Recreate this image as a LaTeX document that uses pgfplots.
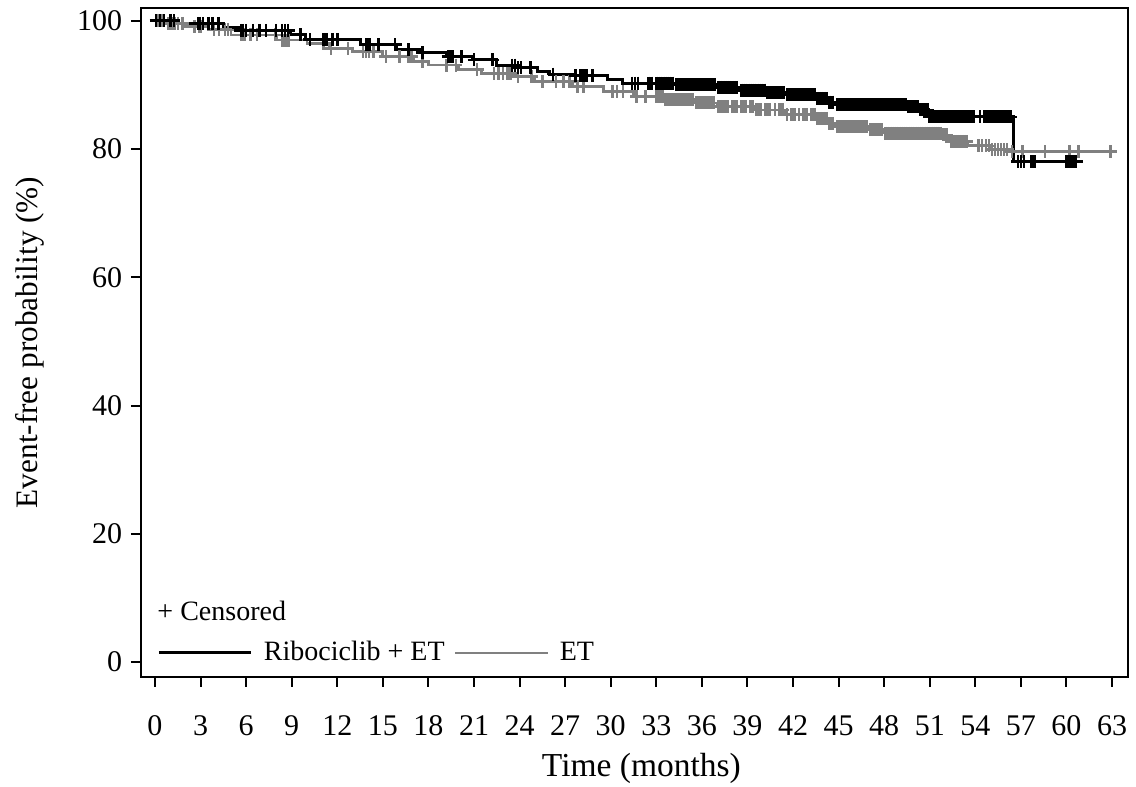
\documentclass[border=0pt]{standalone}
\usepackage{fontspec}
\setmainfont{Liberation Serif}
\usepackage{pgfplots}
\pgfplotsset{compat=1.18}
\definecolor{etgray}{RGB}{128,128,128}
\begin{document}
\begin{tikzpicture}
\path[use as bounding box] (-56.4pt,-44pt) rectangle (398pt,270.8pt);
\begin{axis}[
  scale only axis, width=394.8pt, height=267.6pt,
  xmin=-0.92, xmax=64.05, ymin=-2.34, ymax=102.0,
  xtick={0,3,...,63}, ytick={0,20,...,100},
  tick pos=left, tick align=outside, major tick length=4pt,
  axis line style={line width=0.8pt},
  every tick/.style={black, line width=0.8pt},
  font=\fontsize{12}{14}\selectfont,
  /pgf/number format/assume math mode=true,
  xticklabel style={yshift=-8pt},
  xlabel={Time (months)}, ylabel={Event-free probability (\%)},
  xlabel style={at={(axis description cs:0.507,-0.136)}, anchor=center, font=\fontsize{13.4}{15}\selectfont},
  ylabel style={at={(axis description cs:-0.1125,0.5)}, anchor=center, font=\fontsize{12.5}{15}\selectfont},
  legend columns=2,
  legend style={draw=none, fill=none, at={(axis description cs:0.0162,0.0105)}, anchor=south west, inner sep=0pt,
    font=\fontsize{11.2}{13}\selectfont,
    /tikz/every even column/.append style={column sep=1.6pt}},
  legend image code/.code={\draw[#1] (0pt,0pt) -- (37pt,0pt); \path (39.4pt,0pt);},
]
\addplot[const plot, black, line width=1.2pt] coordinates {
(0,100) (1.5,99.6) (4.5,98.9) (5.6,98.5) (8.9,97.8) (9.9,97.1) (13.5,96.3) (15.9,95.5) (17.5,95.0) (19.2,94.4) (20.9,93.9) (22.5,93.1) (23.8,92.7) (25.2,92.1) (26.0,91.7) (27.5,91.4) (29.8,90.8) (30.8,90.3) (34.2,90.0) (37.0,89.6) (38.5,89.2) (40.2,88.8) (41.5,88.5) (43.5,87.9) (44.3,87.3) (44.8,86.9) (49.5,86.6) (50.3,86.1) (50.9,85.0) (56.5,78.0) (61.1,78.0)
};
\addlegendentry{Ribociclib + ET}
\addplot[const plot, etgray, line width=1.1pt] coordinates {
(0,100) (0.8,99.6) (2.0,99.1) (3.5,98.6) (5.0,97.8) (8.0,97.0) (10,96.5) (11.5,95.7) (13,95.2) (15,94.4) (17,93.6) (18,93.1) (20,92.4) (21.5,91.8) (23.5,91.3) (25,90.5) (27.5,89.8) (29.5,89.0) (31.5,88.2) (33.5,87.7) (35.5,87.2) (37,86.6) (39.5,86.1) (41.5,85.4) (43.5,84.8) (44.3,84.0) (44.8,83.5) (47,83.0) (48,82.5) (51.8,82.2) (52.3,81.2) (53.5,80.5) (55,79.9) (56.3,79.6) (63,79.6)
};
\addlegendentry{ET}
% censored, ET
\addplot[only marks, mark=+, mark size=2.6pt, etgray, line width=1pt, forget plot] coordinates {
(0.2,100)(0.5,100)
(0.9,99.6)(1.1,99.6)(1.3,99.6)(1.5,99.6)(1.8,99.6)
(2.6,99.1)(2.9,99.1)(3.0,99.1)
(3.9,98.6)(4.2,98.6)(4.6,98.6)(4.8,98.6)
(5.7,97.8)(5.9,97.8)(6.3,97.8)(6.7,97.8)(7.9,97.8)
(8.4,97.0)(8.6,97.0)(8.8,97.0)
(11.1,96.5)
(11.6,95.7)(12.7,95.7)
(13.7,95.2)(13.9,95.2)(14.1,95.2)(14.4,95.2)
(15.2,94.4)(16.1,94.4)(16.7,94.4)(16.9,94.4)
(17.6,93.6)
(19.2,93.1)(19.8,93.1)
(21.2,92.4)
(22.3,91.8)(22.6,91.8)(22.9,91.8)(23.2,91.8)(23.4,91.8)
(23.9,91.3)(24.8,91.3)
(25.5,90.5)(26.4,90.5)(26.9,90.5)(27.3,90.5)
(27.8,89.8)(28.2,89.8)
(30.1,89.0)(30.4,89.0)(30.8,89.0)
(31.7,88.2)(32.3,88.2)(33.0,88.2)(33.2,88.2)(33.4,88.2)
(33.6,87.7)(33.75,87.7)(33.9,87.7)(34.05,87.7)(34.2,87.7)(34.35,87.7)(34.5,87.7)(34.65,87.7)(34.8,87.7)(34.95,87.7)(35.1,87.7)(35.25,87.7)(35.4,87.7)
(35.6,87.2)(35.75,87.2)(35.9,87.2)(36.05,87.2)(36.2,87.2)(36.35,87.2)(36.5,87.2)(36.65,87.2)(36.8,87.2)
(37.1,86.6)(37.25,86.6)(37.4,86.6)(37.55,86.6)(37.7,86.6)(38.0,86.6)(38.15,86.6)(38.3,86.6)(38.6,86.6)(38.75,86.6)(38.9,86.6)(39.2,86.6)(39.35,86.6)
(39.6,86.1)(39.75,86.1)(39.9,86.1)(40.2,86.1)(40.35,86.1)(40.5,86.1)(40.8,86.1)(41.1,86.1)(41.3,86.1)
(41.6,85.4)(41.9,85.4)(42.1,85.4)(42.4,85.4)(42.7,85.4)(42.9,85.4)(43.2,85.4)(43.4,85.4)
(43.6,84.8)(43.8,84.8)(44.0,84.8)(44.2,84.8)
(44.4,84.0)(44.6,84.0)
(44.9,83.5)(45.05,83.5)(45.2,83.5)(45.35,83.5)(45.5,83.5)(45.65,83.5)(45.8,83.5)(45.95,83.5)(46.1,83.5)(46.25,83.5)(46.4,83.5)(46.55,83.5)(46.7,83.5)(46.85,83.5)
(47.1,83.0)(47.25,83.0)(47.4,83.0)(47.55,83.0)(47.7,83.0)(47.85,83.0)
(48.1,82.5)(48.25,82.5)(48.4,82.5)(48.55,82.5)(48.7,82.5)(48.85,82.5)(49.0,82.5)(49.15,82.5)(49.3,82.5)(49.45,82.5)(49.6,82.5)(49.75,82.5)(49.9,82.5)(50.05,82.5)(50.2,82.5)(50.35,82.5)(50.5,82.5)(50.65,82.5)(50.8,82.5)(50.95,82.5)(51.1,82.5)(51.25,82.5)(51.4,82.5)(51.55,82.5)(51.7,82.5)
(51.9,82.2)(52.1,82.2)
(52.4,81.2)(52.55,81.2)(52.7,81.2)(52.85,81.2)(53.0,81.2)(53.15,81.2)(53.3,81.2)(53.45,81.2)
(54.2,80.5)(54.45,80.5)(54.7,80.5)(54.9,80.5)
(55.1,79.9)(55.3,79.9)(55.5,79.9)(55.7,79.9)(55.9,79.9)(56.1,79.9)
(56.4,79.6)(57.1,79.6)(58.6,79.6)(60.2,79.6)(60.8,79.6)(62.9,79.6)
};
% censored, Ribociclib + ET
\addplot[only marks, mark=+, mark size=2.6pt, black, line width=1.1pt, forget plot] coordinates {
(0.07,100)(0.33,100)(0.6,100)(1.0,100)(1.25,100)
(2.83,99.6)(2.96,99.6)(3.16,99.6)(3.5,99.6)(3.8,99.6)(4.2,99.6)
(5.66,98.5)(5.8,98.5)(5.99,98.5)(6.45,98.5)(6.9,98.5)(7.3,98.5)(7.97,98.5)(8.36,98.5)(8.56,98.5)(8.76,98.5)
(9.6,97.8)
(10.2,97.1)(11.1,97.1)(11.3,97.1)(11.7,97.1)(12.0,97.1)
(13.9,96.3)(14.1,96.3)(14.7,96.3)(15.8,96.3)
(16.7,95.5)
(17.6,95.0)
(19.3,94.4)(19.5,94.4)(19.6,94.4)(20.2,94.4)
(21.0,93.9)(22.2,93.9)
(23.5,93.1)(23.7,93.1)
(23.9,92.7)(24.1,92.7)(24.7,92.7)
(26.2,91.7)
(27.7,91.4)(28.0,91.4)(28.2,91.4)(28.4,91.4)(28.8,91.4)
(31.4,90.3)(31.6,90.3)(31.8,90.3)(32.5,90.3)(32.7,90.3)(33.0,90.3)(33.15,90.3)(33.3,90.3)(33.45,90.3)(33.6,90.3)(33.75,90.3)(33.9,90.3)(34.05,90.3)
(34.3,90.0)(34.45,90.0)(34.6,90.0)(34.75,90.0)(34.9,90.0)(35.05,90.0)(35.2,90.0)(35.35,90.0)(35.5,90.0)(35.65,90.0)(35.8,90.0)(35.95,90.0)(36.1,90.0)(36.25,90.0)(36.4,90.0)(36.55,90.0)(36.7,90.0)(36.85,90.0)
(37.1,89.6)(37.25,89.6)(37.4,89.6)(37.55,89.6)(37.7,89.6)(37.85,89.6)(38.0,89.6)(38.15,89.6)(38.3,89.6)
(38.6,89.2)(38.75,89.2)(38.9,89.2)(39.05,89.2)(39.2,89.2)(39.35,89.2)(39.5,89.2)(39.65,89.2)(39.8,89.2)(39.95,89.2)(40.1,89.2)
(40.3,88.8)(40.45,88.8)(40.6,88.8)(40.75,88.8)(40.9,88.8)(41.05,88.8)(41.2,88.8)(41.35,88.8)
(41.6,88.5)(41.75,88.5)(41.9,88.5)(42.05,88.5)(42.2,88.5)(42.35,88.5)(42.5,88.5)(42.65,88.5)(42.8,88.5)(42.95,88.5)(43.1,88.5)(43.25,88.5)(43.4,88.5)
(43.6,87.9)(43.75,87.9)(43.9,87.9)(44.05,87.9)(44.2,87.9)
(44.4,87.3)(44.6,87.3)
(44.9,86.9)(45.05,86.9)(45.2,86.9)(45.35,86.9)(45.5,86.9)(45.65,86.9)(45.8,86.9)(45.95,86.9)(46.1,86.9)(46.25,86.9)(46.4,86.9)(46.55,86.9)(46.7,86.9)(46.85,86.9)(47.0,86.9)(47.15,86.9)(47.3,86.9)(47.45,86.9)(47.6,86.9)(47.75,86.9)(47.9,86.9)(48.05,86.9)(48.2,86.9)(48.35,86.9)(48.5,86.9)(48.65,86.9)(48.8,86.9)(48.95,86.9)(49.1,86.9)(49.25,86.9)(49.4,86.9)
(49.6,86.6)(49.75,86.6)(49.9,86.6)(50.05,86.6)(50.2,86.6)
(50.4,86.1)(50.55,86.1)(50.7,86.1)(50.85,86.1)
(51.0,85.0)(51.15,85.0)(51.3,85.0)(51.45,85.0)(51.6,85.0)(51.75,85.0)(51.9,85.0)(52.05,85.0)(52.2,85.0)(52.35,85.0)(52.5,85.0)(52.65,85.0)(52.8,85.0)(52.95,85.0)(53.1,85.0)(53.25,85.0)(53.4,85.0)(53.55,85.0)(53.7,85.0)
(53.9,85.0)(54.3,85.0)(54.6,85.0)(54.8,85.0)(54.95,85.0)(55.1,85.0)(55.25,85.0)(55.4,85.0)(55.55,85.0)(55.7,85.0)(55.85,85.0)(56.0,85.0)(56.15,85.0)(56.3,85.0)
(56.8,78.0)(57.0,78.0)(57.2,78.0)(57.7,78.0)(57.9,78.0)(60.0,78.0)(60.2,78.0)(60.4,78.0)(60.6,78.0)
};
\node[anchor=base west, inner sep=0pt, font=\fontsize{11.2}{13}\selectfont] at (axis description cs:0.0162,0.085) {+ Censored};
\end{axis}
\end{tikzpicture}
\end{document}
